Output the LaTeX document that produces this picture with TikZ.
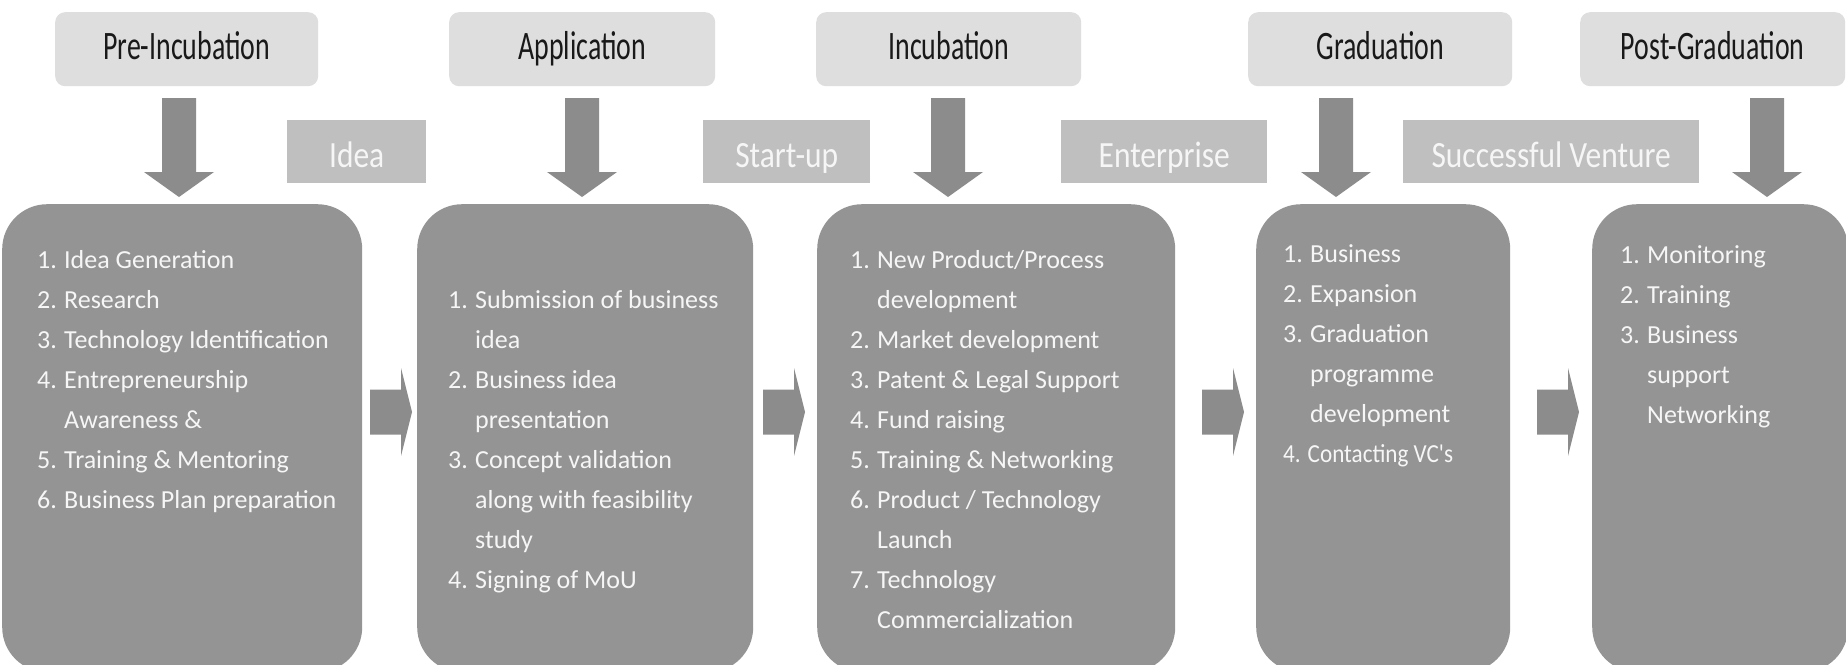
\documentclass[tikz,border=0pt]{standalone}
\usepackage{fontspec}
\setmainfont{Carlito}
\newfontfamily\hdrfont[FakeStretch=0.69]{Carlito}
\newfontfamily\lblfont[FakeStretch=0.85]{Carlito}
\newfontfamily\narrowfont[FakeStretch=0.89]{Carlito}
\definecolor{hdrfill}{RGB}{222,222,222}
\definecolor{hdrtext}{RGB}{25,25,25}
\definecolor{lblfill}{RGB}{191,191,191}
\definecolor{lbltext}{RGB}{246,246,246}
\definecolor{boxfill}{RGB}{148,148,148}
\definecolor{bodytext}{RGB}{246,246,246}
\definecolor{arrowfill}{RGB}{140,140,140}
\newcommand\itm[2]{\makebox[27pt][l]{#1}#2}
\newcommand\cnt[1]{\makebox[27pt][l]{}#1}
\begin{document}
\begin{tikzpicture}[x=1pt,y=-1pt,
  hdr/.style={rectangle, rounded corners=10pt, fill=hdrfill, minimum height=74pt,
    inner sep=0pt, anchor=north west, text=hdrtext,
    font=\hdrfont\fontsize{40.4}{48}\selectfont, text height=26pt, text depth=6pt},
  lbl/.style={rectangle, fill=lblfill, minimum height=63pt, inner sep=0pt,
    anchor=north west, text=lbltext, font=\lblfont\fontsize{37}{42}\selectfont,
    text height=31pt, text depth=0pt},
  mainbox/.style={rectangle, rounded corners=45pt, fill=boxfill, inner sep=0pt,
    anchor=north west, minimum height=468pt},
  body/.style={anchor=north west, inner sep=0pt, align=left, text=bodytext,
    font=\fontsize{26}{40}\selectfont},
  downblk/.pic={\fill[arrowfill] (-17,98) -- (17,98) -- (17,172) -- (35,172)
    -- (0,197) -- (-35,172) -- (-17,172) -- cycle;},
  rightblk/.pic={\fill[arrowfill] (0,-22.5) -- (31,-22.5) -- (31,-44) -- (42,0)
    -- (31,44) -- (31,22.5) -- (0,22.5) -- cycle;}
]
\useasboundingbox (0,0) rectangle (1846,664);
\fill[white] (0,0) rectangle (1846,664);

% phase headers
\node[hdr, minimum width=263pt] (h1) at (55,12) {Pre-Incubation};
\node[hdr, minimum width=266pt] (h2) at (449,12) {Application};
\node[hdr, minimum width=265pt] (h3) at (816,12) {Incubation};
\node[hdr, minimum width=264pt] (h4) at (1248,12) {Graduation};
\node[hdr, minimum width=265pt] (h5) at (1580,12) {Post-Graduation};

% stage labels
\node[lbl, minimum width=139pt] (l1) at (287,120) {Idea};
\node[lbl, minimum width=167pt] (l2) at (703,120) {Start-up};
\node[lbl, minimum width=206pt] (l3) at (1061,120) {Enterprise};
\node[lbl, minimum width=296pt] (l4) at (1403,120) {Successful Venture};

% down arrows
\pic at (179,0) {downblk};
\pic at (582,0) {downblk};
\pic at (948,0) {downblk};
\pic at (1336,0) {downblk};
\pic at (1767,0) {downblk};

% main boxes
\node[mainbox, minimum width=360pt] (b1) at (2,204) {};
\node[mainbox, minimum width=336pt] (b2) at (417,204) {};
\node[mainbox, minimum width=358pt] (b3) at (817,204) {};
\node[mainbox, minimum width=254pt] (b4) at (1256,204) {};
\node[mainbox, minimum width=256pt] (b5) at (1592,204) {};

% right arrows
\pic at (370,412) {rightblk};
\pic at (763,412) {rightblk};
\pic at (1202,412) {rightblk};
\pic at (1537,412) {rightblk};

% box texts
\node[body] (t1) at (37,246) {\rule{0pt}{22pt}\itm{1.}{Idea Generation}\\
\itm{2.}{Research}\\
\itm{3.}{Technology Identification}\\
\itm{4.}{Entrepreneurship}\\
\cnt{Awareness \&}\\
\itm{5.}{Training \& Mentoring}\\
\itm{6.}{Business Plan preparation}};

\node[body] (t2) at (448,286) {\rule{0pt}{22pt}\itm{1.}{Submission of business}\\
\cnt{idea}\\
\itm{2.}{Business idea}\\
\cnt{presentation}\\
\itm{3.}{Concept validation}\\
\cnt{along with feasibility}\\
\cnt{study}\\
\itm{4.}{Signing of MoU}};

\node[body] (t3) at (850,246) {\rule{0pt}{22pt}\itm{1.}{New Product/Process}\\
\cnt{development}\\
\itm{2.}{Market development}\\
\itm{3.}{Patent \& Legal Support}\\
\itm{4.}{Fund raising}\\
\itm{5.}{Training \& Networking}\\
\itm{6.}{Product / Technology}\\
\cnt{Launch}\\
\itm{7.}{Technology}\\
\cnt{Commercialization}};

\node[body] (t4) at (1283,240) {\rule{0pt}{22pt}\itm{1.}{Business}\\
\itm{2.}{Expansion}\\
\itm{3.}{Graduation}\\
\cnt{programme}\\
\cnt{development}\\
{\narrowfont 4. Contacting VC's}};

\node[body] (t5) at (1620,241) {\rule{0pt}{22pt}\itm{1.}{Monitoring}\\
\itm{2.}{Training}\\
\itm{3.}{Business}\\
\cnt{support}\\
\cnt{Networking}};
\end{tikzpicture}
\end{document}
